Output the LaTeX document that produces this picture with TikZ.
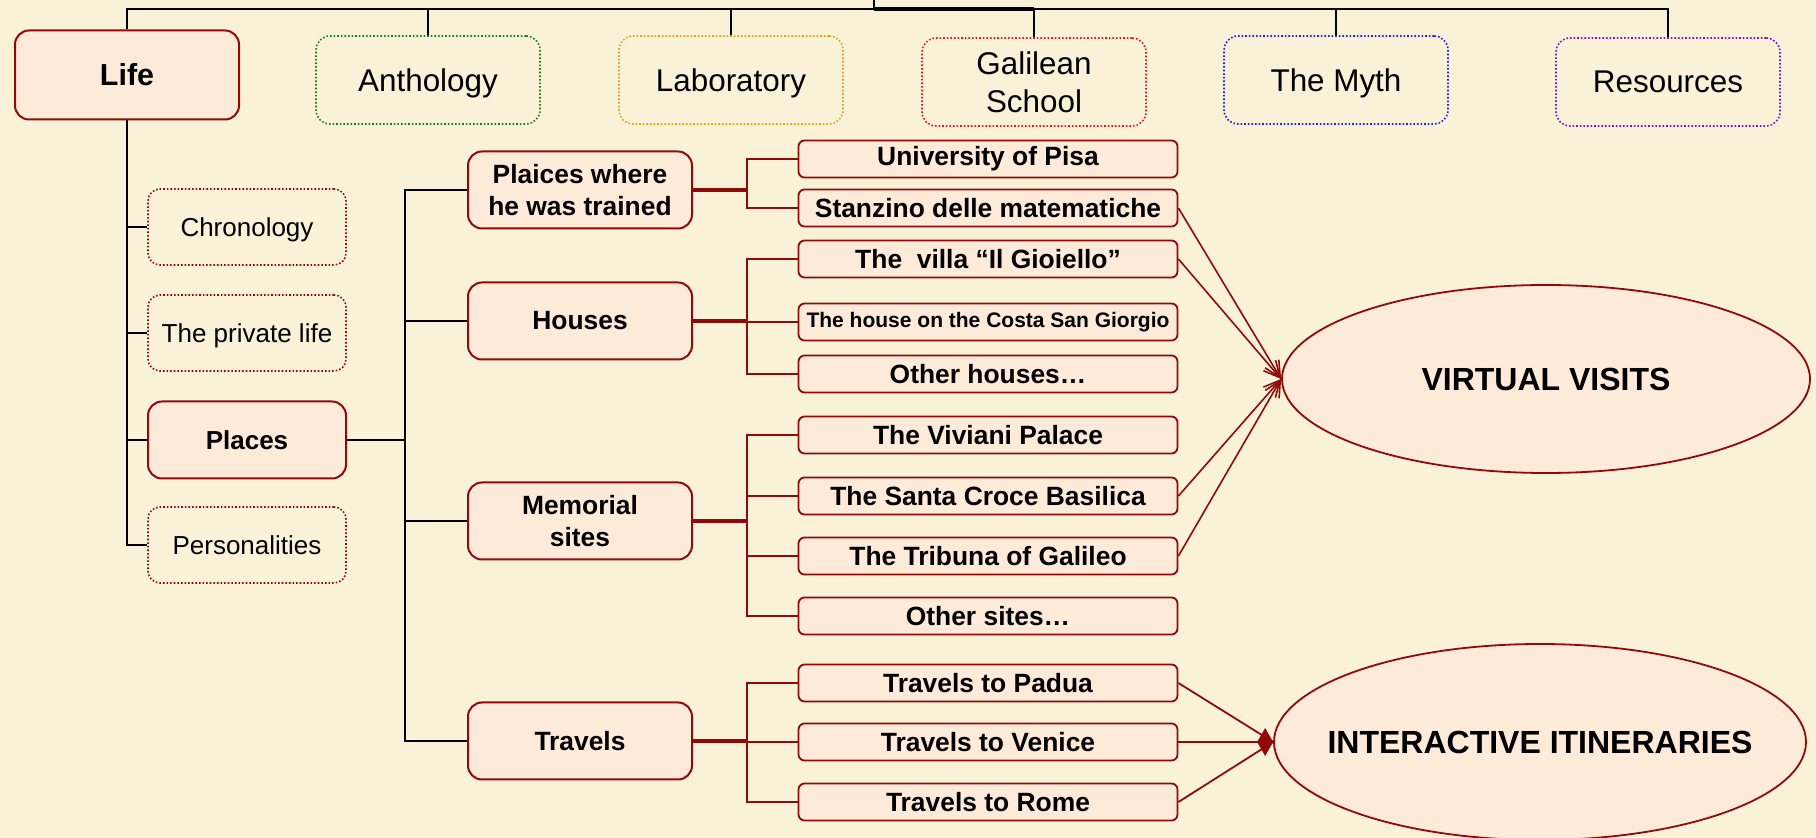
\documentclass[tikz,border=0pt]{standalone}
\usepackage{fontspec}
\setmainfont{Liberation Sans}
\usetikzlibrary{arrows.meta,shapes.geometric}
\definecolor{parchment}{RGB}{250,241,217}
\definecolor{peach}{RGB}{253,234,217}
\definecolor{maroon}{RGB}{145,10,10}
\definecolor{leafgreen}{RGB}{20,130,20}
\definecolor{gold}{RGB}{225,165,0}
\definecolor{brightred}{RGB}{240,20,20}
\definecolor{royal}{RGB}{30,30,240}
\definecolor{violet}{RGB}{110,20,210}
\begin{document}
\begin{tikzpicture}[x=0.5pt,y=-0.5pt,
  topbox/.style={draw=#1,densely dotted,line width=0.8pt,rounded corners=7pt,
    minimum width=112pt,minimum height=44pt,align=center,text depth=0pt,
    font=\fontsize{15.7}{19}\selectfont},
  sidebox/.style={draw=maroon,densely dotted,line width=0.8pt,rounded corners=6pt,
    minimum width=99pt,minimum height=38pt,text depth=0pt,
    font=\fontsize{13}{16}\selectfont},
  mainbox/.style={draw=maroon,fill=peach,line width=1pt,rounded corners=7pt,
    minimum width=112pt,minimum height=38.5pt,align=center,
    font=\fontsize{13.2}{16}\selectfont\bfseries},
  leaf/.style={draw=maroon,fill=peach,line width=0.9pt,rounded corners=3pt,
    minimum width=189.5pt,minimum height=18.5pt,inner sep=0pt,
    font=\fontsize{13.2}{16}\selectfont\bfseries},
  goal/.style={ellipse,draw=maroon,fill=peach,line width=0.9pt,inner sep=0pt,
    font=\fontsize{16}{19}\selectfont\bfseries},
  trunk/.style={draw=black,line width=1pt},
  stem/.style={draw=maroon,line width=1.6pt},
  twig/.style={draw=maroon,line width=0.9pt},
  visit/.style={draw=maroon,line width=0.8pt,-{Straight Barb[length=8pt,width=8pt]}},
  itin/.style={draw=maroon,line width=0.9pt}]
  \fill[parchment] (0,0) rectangle (1816,838);
  \useasboundingbox (0,0) rectangle (1816,838);
  \node[mainbox,minimum height=44.5pt,font=\fontsize{15.2}{18}\selectfont\bfseries] (life) at (127,75) {Life};
  \node[topbox=leafgreen] (anth) at (428,80) {Anthology};
  \node[topbox=gold] (lab) at (731,80) {Laboratory};
  \node[topbox=brightred] (school) at (1034,82) {Galilean\\School};
  \node[topbox=royal] (myth) at (1336,80) {The Myth};
  \node[topbox=violet] (res) at (1668,82) {Resources};
  \node[sidebox] (chron) at (247,227) {Chronology};
  \node[sidebox] (priv) at (247,333) {The private life};
  \node[mainbox,minimum width=99pt,font=\fontsize{13}{16}\selectfont\bfseries] (places) at (247,440) {Places};
  \node[sidebox] (pers) at (247,545) {Personalities};
  \node[mainbox] (trained) at (580,190) {Plaices where\\he was trained};
  \node[mainbox] (houses) at (580,321) {Houses};
  \node[mainbox] (memo) at (580,521) {Memorial\\sites};
  \node[mainbox] (travels) at (580,741) {Travels};
  \node[leaf] (pisa) at (988,159) {University of Pisa};
  \node[leaf] (stanz) at (988,208) {Stanzino delle matematiche};
  \node[leaf] (villa) at (988,259) {The~ villa “Il Gioiello”};
  \node[leaf,font=\fontsize{10.5}{13}\selectfont\bfseries] (costa) at (988,322) {The house on the Costa San Giorgio};
  \node[leaf] (oth) at (988,374) {Other houses…};
  \node[leaf] (viv) at (988,435) {The Viviani Palace};
  \node[leaf] (croce) at (988,496) {The Santa Croce Basilica};
  \node[leaf] (trib) at (988,556) {The Tribuna of Galileo};
  \node[leaf] (othsites) at (988,616) {Other sites…};
  \node[leaf] (padua) at (988,683) {Travels to Padua};
  \node[leaf] (venice) at (988,742) {Travels to Venice};
  \node[leaf] (rome) at (988,802) {Travels to Rome};
  \node[goal,minimum width=264pt,minimum height=94pt] (vv) at (1546,379) {\makebox[0pt]{VIRTUAL VISITS}};
  \node[goal,minimum width=266pt,minimum height=98pt] (ii) at (1540,742) {\makebox[0pt]{INTERACTIVE ITINERARIES}};
  \coordinate (up) at (874,0);
  \coordinate (bus) at (874,9);
  \coordinate (pj) at (405,440);
  \coordinate (tj) at (747,190);
  \coordinate (hj) at (747,321);
  \coordinate (mj) at (747,521);
  \coordinate (vj) at (747,741);
  \draw[trunk] (bus) -- (up);
  \foreach \b in {life,anth,lab,school,myth,res}
    \draw[trunk] (\b.north) |- (bus);
  \draw[trunk,line width=1.6pt] (bus) -- (bus -| school.north);
  \foreach \b in {chron,priv,places,pers}
    \draw[trunk] (life.south) |- (\b.west);
  \draw[trunk] (places.east) -- (pj);
  \foreach \b in {trained,houses,memo,travels}
    \draw[trunk] (pj) |- (\b.west);
  \draw[stem] (trained.east) -- (tj);
  \draw[stem] (houses.east) -- (hj);
  \draw[stem] (memo.east) -- (mj);
  \draw[stem] (travels.east) -- (vj);
  \draw[twig] (tj) |- (pisa.west);
  \draw[twig] (tj) |- (stanz.west);
  \draw[twig] (hj) |- (villa.west);
  \draw[twig] (hj) |- (costa.west);
  \draw[twig] (hj) |- (oth.west);
  \draw[twig] (mj) |- (viv.west);
  \draw[twig] (mj) |- (croce.west);
  \draw[twig] (mj) |- (trib.west);
  \draw[twig] (mj) |- (othsites.west);
  \draw[twig] (vj) |- (padua.west);
  \draw[twig] (vj) |- (venice.west);
  \draw[twig] (vj) |- (rome.west);
  \draw[visit] (stanz.east) -- (vv.west);
  \draw[visit] (villa.east) -- (vv.west);
  \draw[visit] (croce.east) -- (vv.west);
  \draw[visit] (trib.east) -- (vv.west);
  \draw[itin] (padua.east) -- (ii.west);
  \draw[itin] (rome.east) -- (ii.west);
  \draw[itin,-{Diamond[length=8pt,width=14pt]}] (venice.east) -- (ii.west);
\end{tikzpicture}
\end{document}
